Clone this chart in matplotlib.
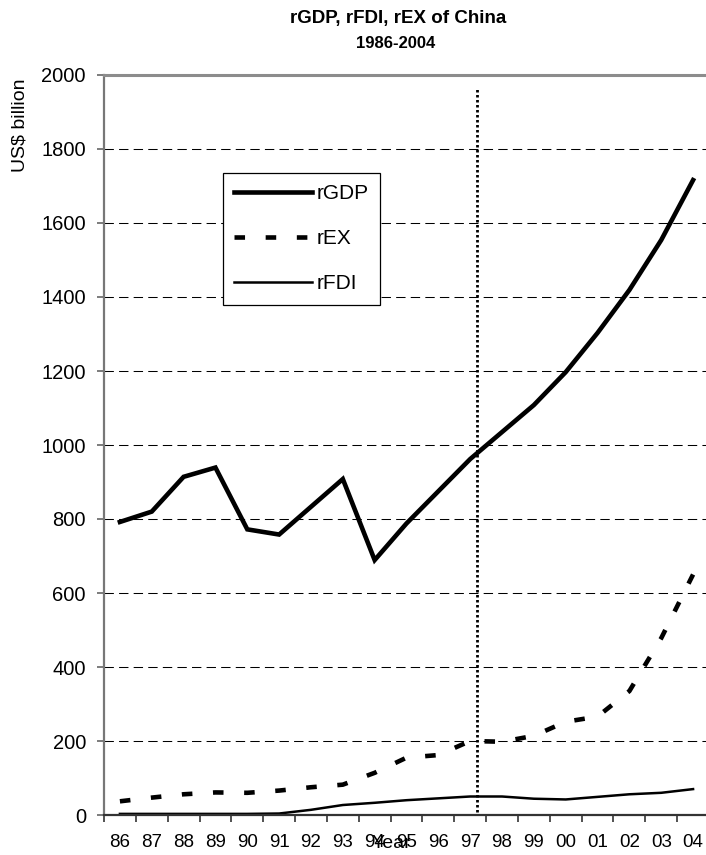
import matplotlib
matplotlib.use("Agg")
import matplotlib.pyplot as plt
import numpy as np

plt.rcParams['font.family'] = ['Liberation Sans', 'DejaVu Sans']

years = ['86', '87', '88', '89', '90', '91', '92', '93', '94', '95',
         '96', '97', '98', '99', '00', '01', '02', '03', '04']
rgdp = [792, 820, 914, 939, 772, 758, 833, 908, 689, 788,
        875, 962, 1035, 1108, 1197, 1303, 1419, 1554, 1716]
rex = [37, 47, 56, 61, 60, 66, 75, 82, 114, 155,
       162, 200, 198, 214, 252, 266, 335, 478, 650]
rfdi = [3, 3, 3, 3, 3, 4, 14, 27, 33, 40,
        45, 50, 50, 44, 42, 49, 56, 60, 70]

# vertical marker (1997) and its extent
vline_x = 11.2
vline_range = (8, 1965)

x = np.arange(len(years))

fig = plt.figure(figsize=(7.06, 8.55), dpi=100)
ax = fig.add_axes([104 / 706, 40 / 855, 605 / 706, 740 / 855])

ax.plot(x, rgdp, color='black', lw=3.3, solid_joinstyle='miter', label='rGDP')
ax.plot(x, rex, color='black', lw=3.3, dashes=(2.3, 4.5), label='rEX')
ax.plot(x, rfdi, color='black', lw=1.8, label='rFDI')
ax.plot([vline_x, vline_x], vline_range, color='black', lw=2.0, dashes=(0.9, 0.9))

ax.set_xlim(-0.5, len(years) - 0.5)
ax.set_ylim(0, 2000)
ax.set_yticks(np.arange(0, 2001, 200))
for v in range(200, 2000, 200):
    ax.axhline(v, color='black', lw=0.75, dashes=(9, 5), zorder=0)

ax.set_xticks(x)
ax.set_xticklabels(years, fontsize=13.5)
ax.set_xticks(np.arange(-0.5, len(years), 1), minor=True)
ax.tick_params(axis='x', which='major', length=0, pad=14)
ax.tick_params(axis='x', which='minor', length=5, width=1.2, color='#333333', direction='out')
ax.tick_params(axis='y', length=5, width=1.2, color='#666666', labelsize=14.5, pad=8)

ax.spines['right'].set_visible(False)
ax.spines['top'].set_color('#8c8c8c')
ax.spines['top'].set_linewidth(2.2)
ax.spines['left'].set_color('#777777')
ax.spines['left'].set_linewidth(1.6)
ax.spines['bottom'].set_color('#333333')
ax.spines['bottom'].set_linewidth(1.6)

leg = ax.legend(loc='upper left', bbox_to_anchor=(222.7 / 706, 1 - 172.7 / 855),
                bbox_transform=fig.transFigure, fontsize=15, frameon=True,
                fancybox=False, shadow=False, borderaxespad=0, borderpad=0.55,
                labelspacing=1.25, handlelength=3.75, handletextpad=0.2)
leg.get_frame().set_edgecolor('black')
leg.get_frame().set_linewidth(0.9)
leg.get_frame().set_alpha(1)

fig.text(20 / 706, 1 - 125 / 855, 'US$ billion', rotation=90, fontsize=14,
         ha='center', va='center')
fig.text(391 / 706, 1 - 843 / 855, 'Year', fontsize=14, ha='center', va='center')
fig.text(398 / 706, 1 - 19 / 855, 'rGDP, rFDI, rEX of China', fontsize=13.5,
         fontweight='bold', ha='center', va='center')
fig.text(396 / 706, 1 - 43 / 855, '1986-2004', fontsize=12,
         fontweight='bold', ha='center', va='center')

fig.savefig('out.png', dpi=100)
